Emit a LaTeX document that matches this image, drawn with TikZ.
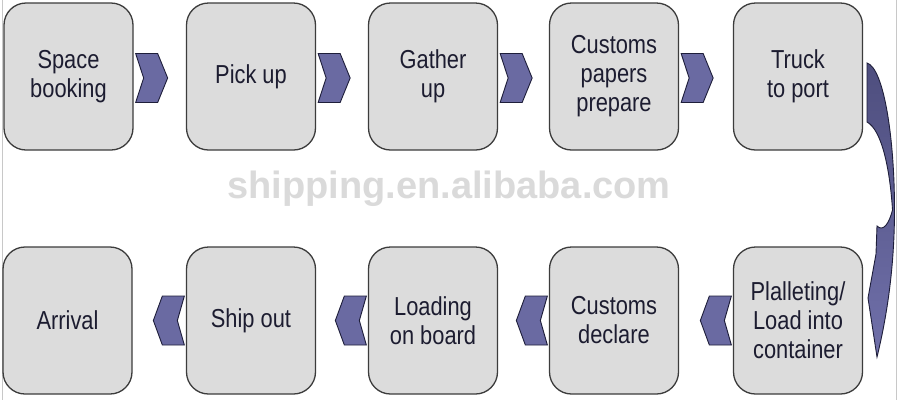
\documentclass[tikz,border=0pt]{standalone}
\usepackage{fontspec}
\setmainfont{Liberation Sans}[FakeStretch=0.84]
\newfontfamily\wmfont{Liberation Sans}
\usetikzlibrary{calc}
\definecolor{boxfill}{HTML}{DCDCDC}
\definecolor{boxline}{HTML}{3C3C3C}
\definecolor{chevfill}{HTML}{6A6AA2}
\definecolor{chevline}{HTML}{1E1E3A}
\definecolor{txt}{HTML}{1C1C30}
\definecolor{wmgray}{HTML}{DADADA}
\definecolor{edgegray}{HTML}{C8C8C8}
\definecolor{arrtop}{HTML}{4E4E7E}
\definecolor{arrbot}{HTML}{7070AA}
\tikzset{
  stepbox/.style={rectangle, rounded corners=22pt, draw=boxline, line width=1.3pt,
    fill=boxfill, minimum width=129pt, minimum height=147pt, inner sep=0pt,
    align=center, text=txt, font=\fontsize{26}{29}\selectfont},
  chev/.style={fill=chevfill, draw=chevline, line width=0.9pt, line join=miter},
}
\begin{document}
\begin{tikzpicture}[x=1pt,y=-1pt]
\useasboundingbox (0,0) rectangle (900,400);
\fill[white] (0,0) rectangle (900,400);
\draw[edgegray, line width=1pt] (2,0) -- (2,400);
\draw[edgegray, line width=1pt] (896.5,0) -- (896.5,400);
% watermark
\node[anchor=base, text=wmgray, inner sep=0pt, font=\wmfont\bfseries\fontsize{38}{40}\selectfont] (wm) at (449,198) {shipping.en.alibaba.com};
% top row
\node[stepbox] (space) at (68.5,76.5) {Space\\booking};
\node[stepbox] (pick) at (251,76.5) {Pick up};
\node[stepbox] (gather) at (433,76.5) {Gather\\up};
\node[stepbox] (papers) at (614,76.5) {Customs\\papers\\prepare};
\node[stepbox] (truck) at (798,76.5) {Truck\\to port};
% bottom row
\node[stepbox] (arrival) at (67.5,320.5) {Arrival};
\node[stepbox] (ship) at (251,320.5) {Ship out};
\node[stepbox] (loading) at (433,320.5) {Loading\\on board};
\node[stepbox] (declare) at (614,320.5) {Customs\\declare};
\node[stepbox] (pallet) at (798,320.5) {Plalleting/\\Load into\\container};
% top chevrons (pointing right)
\foreach \n in {space,pick,gather,papers}{
  \draw[chev, shift={($(\n.east)+(2,1.5)$)}] (0,-24.5) -- (22,-24.5) -- (32,0) -- (22,24.5) -- (0,24.5) -- (8,0) -- cycle;
}
% bottom chevrons (pointing left)
\foreach \n in {ship,loading,declare,pallet}{
  \draw[chev, shift={($(\n.west)+(-1.5,0)$)}] (0,-24.5) -- (-22,-24.5) -- (-31,0) -- (-22,24.5) -- (0,24.5) -- (-7,0) -- cycle;
}
% curved arrow from truck to pallet
\draw[draw=chevline, line width=0.9pt, top color=arrtop, bottom color=arrbot]
  (867,63) .. controls (884,68) and (895,140) .. (894.5,215)
  .. controls (894,265) and (888,312) .. (877,357)
  -- (868,298) -- (876,254) -- (877,226)
  .. controls (883,232) and (889,224) .. (892.5,210)
  .. controls (890,170) and (882,130) .. (867,122) -- cycle;
\end{tikzpicture}
\end{document}
